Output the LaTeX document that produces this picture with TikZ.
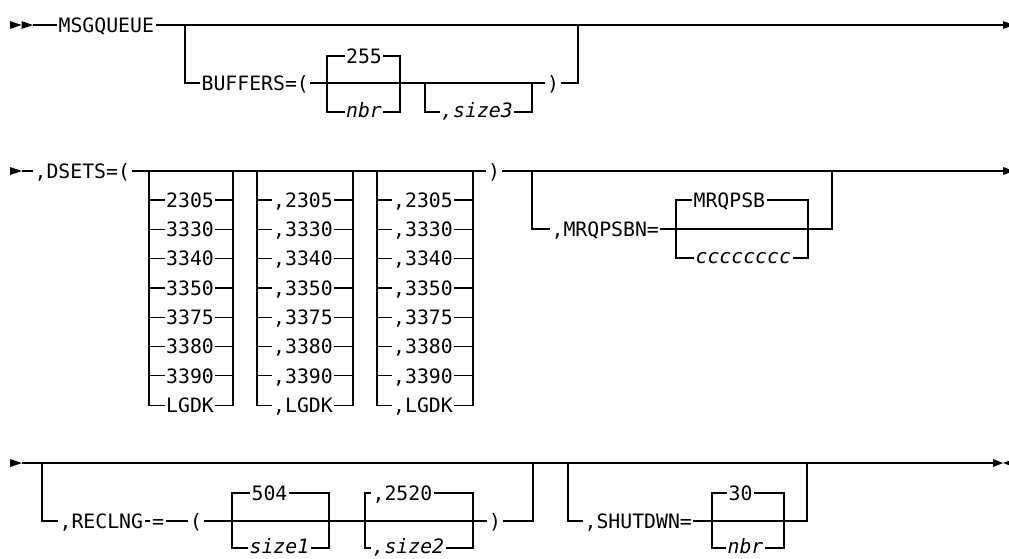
\documentclass[tikz,border=0pt]{standalone}
\usepackage{fontspec}
\newfontfamily\railfont{DejaVu Sans Mono}
\tikzset{
  rail/.style={line width=1.2pt},
  kw/.style={inner xsep=1pt,inner ysep=0pt,text height=14.4pt,text depth=0pt,font=\railfont\fontsize{19.8}{21}\selectfont},
  var/.style={kw,text height=10.2pt,font=\railfont\fontsize{19.8}{21}\selectfont\itshape}
}

\begin{document}
\begin{tikzpicture}[x=1pt,y=-1pt,rail]
  \path[use as bounding box] (0,0) rectangle (1009,558);

  % MSGQUEUE and BUFFERS
  \coordinate (r1start) at (33,25);
  \coordinate (r1end) at (1003,25);
  \fill (10,21) -- (21.5,25) -- (10,29) -- cycle;
  \fill (21.5,21) -- (r1start) -- (21.5,29) -- cycle;
  \node[kw,anchor=west] (msgq) at (57,25) {MSGQUEUE};
  \draw (r1start) -- (msgq.west);
  \draw (msgq.east) -- (r1end);
  \fill (r1end) ++(0,-4) -- ++(11,4) -- ++(-11,4) -- cycle;
  \coordinate (bufj) at (185,25);
  \node[kw,anchor=west] (buf) at (200,83) {BUFFERS=(};
  \node[kw] (b255) at (364,56) {255};
  \node[var] (bnbr) at (364,112) {nbr};
  \node[var] (bsize) at (477,112) {,size3};
  \node[kw] (bclose) at (553,83) {)};
  \draw (bufj) |- (buf.west);
  \draw (buf.east) -- (bclose.west);
  \draw (b255.west) -| (327,83) |- (bnbr.west);
  \draw (b255.east) -| (400,83) |- (bnbr.east);
  \draw (425,83) |- (bsize.west);
  \draw (bsize.east) -| (532,83);
  \draw (bclose.east) -| (578,25);

  % DSETS and MRQPSBN
  \coordinate (r2start) at (22,171);
  \coordinate (r2end) at (1003,171);
  \fill (10,167) -- (r2start) -- (10,175) -- cycle;
  \node[kw,anchor=west] (dsets) at (33,171) {,DSETS=(};
  \node[kw] (dclose) at (494,171) {)};
  \draw (r2start) -- (dsets.west);
  \draw (dsets.east) -- (dclose.west);
  \draw (dclose.east) -- (r2end);
  \fill (r2end) ++(0,-4) -- ++(11,4) -- ++(-11,4) -- cycle;
  \foreach \v [count=\i from 0] in {2305,3330,3340,3350,3375,3380,3390,LGDK} {
    \node[kw] (da\i) at (190,{200+29.3*\i}) {\v};
    \node[kw] (db\i) at (303,{200+29.3*\i}) {,\v};
    \node[kw] (dc\i) at (423,{200+29.3*\i}) {,\v};
    \draw (149,171) |- (da\i.west);
    \draw (da\i.east) -| (233,171);
    \draw (257,171) |- (db\i.west);
    \draw (db\i.east) -| (353,171);
    \draw (377,171) |- (dc\i.west);
    \draw (dc\i.east) -| (473,171);
  }
  \node[kw,anchor=west] (mrq) at (550,229) {,MRQPSBN=};
  \node[kw,anchor=west] (mdef) at (692,200) {MRQPSB};
  \node[var,anchor=west] (mvar) at (694,258) {cccccccc};
  \draw (532,171) |- (mrq.west);
  \draw (mdef.west) -| (676,229) |- (mvar.west);
  \draw (mdef.east) -| (808,229) |- (mvar.east);
  \draw (mrq.east) -| (832,171);

  % RECLNG and SHUTDWN
  \coordinate (r3start) at (22,463);
  \coordinate (r3end) at (993,463);
  \fill (10,459) -- (r3start) -- (10,467) -- cycle;
  \draw (r3start) -- (r3end);
  \fill (r3end) ++(0,-4) -- ++(10,4) -- ++(-10,4) -- cycle;
  \fill (1014,459) -- (1003,463) -- (1014,467) -- cycle;
  \node[kw,anchor=west] (recl) at (58,521) {,RECLNG};
  \node[kw] (req) at (158,521) {=};
  \node[kw] (ropen) at (196,521) {(};
  \node[kw] (rclose) at (495,521) {)};
  \node[kw,anchor=west] (r504) at (250,493) {504};
  \node[var,anchor=west] (rsize1) at (248,548) {size1};
  \node[kw,anchor=west] (r2520) at (371,493) {,2520};
  \node[var,anchor=west] (rsize2) at (371,548) {,size2};
  \draw (42,463) |- (recl.west);
  \draw (recl.east) -- (req.west);
  \draw (req.east) -- (ropen.west);
  \draw (ropen.east) -- (rclose.west);
  \draw (r504.west) -| (232,521) |- (rsize1.west);
  \draw (r504.east) -| (329,521) |- (rsize1.east);
  \draw (r2520.west) -| (365,521) |- (rsize2.west);
  \draw (r2520.east) -| (473,521) |- (rsize2.east);
  \draw (rclose.east) -| (533,463);
  \node[kw,anchor=west] (shut) at (583,521) {,SHUTDWN=};
  \node[kw,anchor=west] (s30) at (727,493) {30};
  \node[var,anchor=west] (snbr) at (726,548) {nbr};
  \draw (568,463) |- (shut.west);
  \draw (s30.west) -| (712,521) |- (snbr.west);
  \draw (s30.east) -| (784,521) |- (snbr.east);
  \draw (shut.east) -| (807,463);
\end{tikzpicture}
\end{document}
